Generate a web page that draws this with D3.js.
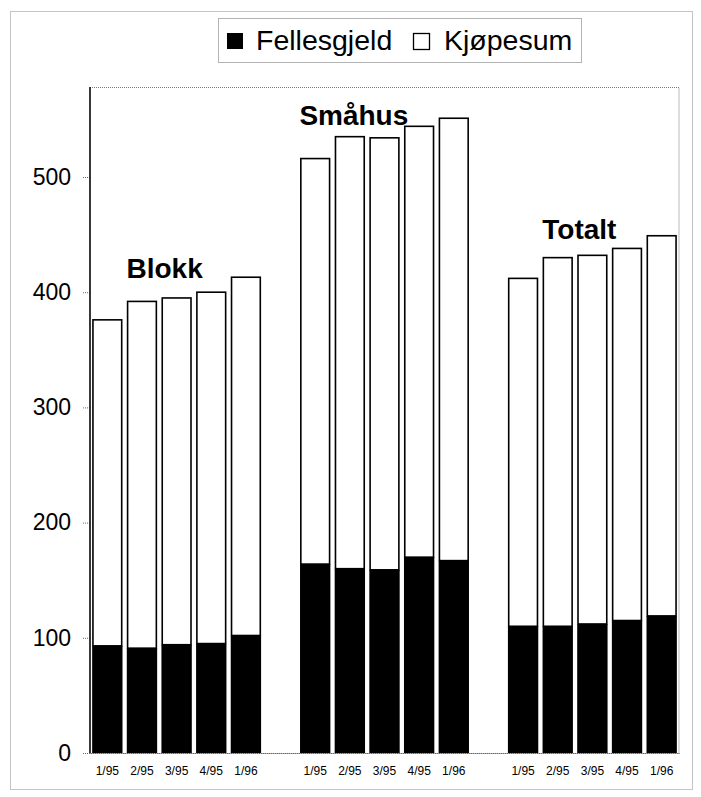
<!DOCTYPE html>
<html><head><meta charset="utf-8">
<script src="https://cdn.jsdelivr.net/npm/d3@7"></script>
<style>body{margin:0;background:#fff}svg{display:block}</style>
</head><body>
<script>
const groups = ["Blokk", "Småhus", "Totalt"];
const periods = ["1/95", "2/95", "3/95", "4/95", "1/96"];
const fellesgjeld = [
  [93, 91, 94, 95, 102],
  [164, 160, 159, 170, 167],
  [110, 110, 112, 115, 119]
];
const totals = [
  [376, 392, 395, 400, 413],
  [516, 535, 534, 544, 551],
  [412, 430, 432, 438, 449]
];
const yTicks = [0, 100, 200, 300, 400, 500];
const seriesNames = ["Fellesgjeld", "Kjøpesum"];

const W = 701, H = 797;
const svg = d3.select("body").append("svg").attr("width", W).attr("height", H);
const font = "Arial, 'Liberation Sans', sans-serif";

// outer border
svg.append("rect").attr("x", 10.5).attr("y", 11.5).attr("width", 682).attr("height", 778)
  .attr("fill", "none").attr("stroke", "#888").attr("stroke-dasharray", "1,1");

const plot = {l: 90, r: 679, t: 87, b: 753};

// build rows
const slots = [];
const rows = [];
groups.forEach((g, gi) => {
  periods.forEach((p, pi) => {
    const key = g + "|" + p;
    slots.push(key);
    rows.push({key, group: g, period: p, felles: fellesgjeld[gi][pi], total: totals[gi][pi]});
  });
  if (gi < groups.length - 1) slots.push("gap" + gi);
});

const x = d3.scaleBand().domain(slots).range([plot.l, plot.r]).paddingInner(0.17).paddingOuter(0.085);
const y = d3.scaleLinear().domain([0, 500]).range([plot.b, 177]);

// plot area border
svg.append("rect").attr("x", plot.l).attr("y", plot.t + 0.5).attr("width", plot.r - plot.l).attr("height", plot.b - plot.t)
  .attr("fill", "none").attr("stroke", "#777").attr("stroke-dasharray", "1,1");

// bars
const bars = svg.append("g");
bars.selectAll("rect.k").data(rows).join("rect").attr("class", "k")
  .attr("x", d => x(d.key)).attr("width", x.bandwidth())
  .attr("y", d => y(d.total)).attr("height", d => y(d.felles) - y(d.total))
  .attr("fill", "#fff").attr("stroke", "#000").attr("stroke-width", 1.6);
bars.selectAll("rect.f").data(rows).join("rect").attr("class", "f")
  .attr("x", d => x(d.key) - 0.8).attr("width", x.bandwidth() + 1.6)
  .attr("y", d => y(d.felles)).attr("height", d => y(0) - y(d.felles))
  .attr("fill", "#000");

// y axis
const yAxis = d3.axisLeft(y).tickValues(yTicks).tickSize(8).tickPadding(11).tickFormat(d3.format("d"));
const ya = svg.append("g").attr("transform", `translate(${plot.l},0)`).call(yAxis);
ya.select(".domain").remove();
ya.selectAll("text").attr("font-family", font).attr("font-size", 23).attr("fill", "#000");
ya.selectAll("line").attr("stroke", "#666").attr("stroke-dasharray", "1,1");
svg.append("line").attr("x1", plot.l).attr("x2", plot.l).attr("y1", plot.t).attr("y2", plot.b)
  .attr("stroke", "#000").attr("stroke-width", 1.5);

// x axis
const xAxis = d3.axisBottom(x).tickSize(0).tickPadding(13).tickFormat(k => k.startsWith("gap") ? "" : k.split("|")[1]);
const xa = svg.append("g").attr("transform", `translate(0,${plot.b})`).call(xAxis);
xa.select(".domain").attr("stroke", "#555").attr("stroke-dasharray", "1,1");
xa.selectAll("text").attr("font-family", font).attr("font-size", 12).attr("fill", "#000");

// group labels (positioned over their groups, anchored by value scale)
const labelPos = [
  {g: "Blokk", slot: "Blokk|3/95", dx: -12, val: 412},
  {g: "Småhus", slot: "Småhus|2/95", dx: 4, val: 545},
  {g: "Totalt", slot: "Totalt|3/95", dx: -13, val: 446}
];
labelPos.forEach(lp => {
  svg.append("text").attr("x", x(lp.slot) + x.bandwidth() / 2 + lp.dx)
    .attr("y", y(lp.val))
    .attr("text-anchor", "middle").attr("font-family", font).attr("font-weight", "bold")
    .attr("font-size", 28).text(lp.g);
});

// legend
const lg = svg.append("g");
lg.append("rect").attr("x", 218.5).attr("y", 18.5).attr("width", 363).attr("height", 44)
  .attr("fill", "#fff").attr("stroke", "#666").attr("stroke-dasharray", "1,1");
lg.append("rect").attr("x", 227).attr("y", 33).attr("width", 16).attr("height", 16).attr("fill", "#000");
lg.append("text").attr("x", 256).attr("y", 50).attr("font-family", font).attr("font-size", 28.5).text(seriesNames[0]);
lg.append("rect").attr("x", 413.5).attr("y", 33.5).attr("width", 16).attr("height", 16).attr("fill", "#fff").attr("stroke", "#000").attr("stroke-width", 1.3);
lg.append("text").attr("x", 444).attr("y", 50).attr("font-family", font).attr("font-size", 28.5).text(seriesNames[1]);
</script>
</body></html>
